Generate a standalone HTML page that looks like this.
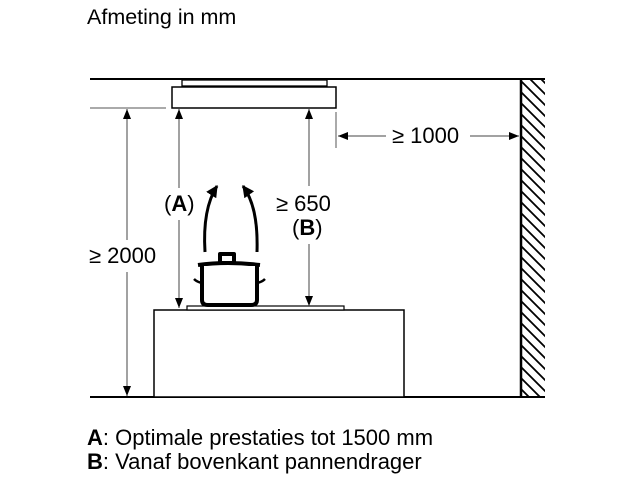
<!DOCTYPE html>
<html><head><meta charset="utf-8"><style>
body{margin:0;background:#fff;}
svg{display:block;font-family:"Liberation Sans",sans-serif;}
</style></head><body>
<svg width="640" height="480" viewBox="0 0 640 480">
<defs>
<marker id="ah" viewBox="0 0 10 10" refX="10" refY="5" markerWidth="10" markerHeight="10" markerUnits="userSpaceOnUse" orient="auto-start-reverse"><path d="M0,1 L10,5 L0,9 z" fill="#000"/></marker>
<marker id="ah2" viewBox="0 0 10 10" refX="9" refY="5" markerWidth="12" markerHeight="12" markerUnits="userSpaceOnUse" orient="auto"><path d="M0,0 L10,5 L0,10 z" fill="#000"/></marker>
<pattern id="hatch" width="11" height="11" patternUnits="userSpaceOnUse"><path d="M-2,-2 L13,13 M-2,9 L2,13 M9,-2 L13,2" stroke="#000" stroke-width="1.8"/></pattern>
</defs>
<text x="87" y="24" font-size="21.5">Afmeting in mm</text>
<line x1="90" y1="79" x2="545" y2="79" stroke="#000" stroke-width="2"/>
<rect x="521" y="80" width="24" height="317" fill="url(#hatch)"/>
<line x1="521" y1="79" x2="521" y2="397" stroke="#000" stroke-width="2.5"/>
<line x1="90" y1="397" x2="545" y2="397" stroke="#000" stroke-width="2"/>
<rect x="182" y="80" width="145" height="6" fill="#fff" stroke="#000" stroke-width="1.3"/>
<rect x="172" y="87" width="164" height="21" fill="#fff" stroke="#000" stroke-width="1.5"/>
<line x1="90" y1="108" x2="166" y2="108" stroke="#555" stroke-width="1"/>
<line x1="336" y1="112" x2="336" y2="148" stroke="#555" stroke-width="1"/>
<rect x="154" y="310" width="250" height="87" fill="#fff" stroke="#000" stroke-width="1.5"/>
<rect x="187" y="306" width="157" height="4" fill="#fff" stroke="#000" stroke-width="1.2"/>
<g stroke="#444" stroke-width="1" fill="none">
<line x1="127" y1="109" x2="127" y2="240" marker-start="url(#ah)"/>
<line x1="127" y1="272" x2="127" y2="396" marker-end="url(#ah)"/>
<line x1="179" y1="109" x2="179" y2="188" marker-start="url(#ah)"/>
<line x1="179" y1="220" x2="179" y2="308" marker-end="url(#ah)"/>
<line x1="309" y1="109" x2="309" y2="186" marker-start="url(#ah)"/>
<line x1="309" y1="244" x2="309" y2="306" marker-end="url(#ah)"/>
<line x1="386" y1="136" x2="338" y2="136" marker-end="url(#ah)"/>
<line x1="470" y1="136" x2="519" y2="136" marker-end="url(#ah)"/>
</g>
<text x="89" y="263" font-size="22">≥ 2000</text>
<text x="164" y="211" font-size="22">(<tspan font-weight="bold">A</tspan>)</text>
<text x="276" y="211" font-size="22">≥ 650</text>
<text x="292" y="235" font-size="22">(<tspan font-weight="bold">B</tspan>)</text>
<text x="392" y="143" font-size="22">≥ 1000</text>
<g stroke="#000" stroke-width="3" fill="none">
<path d="M205,252 C203,220 208,200 217,186" marker-end="url(#ah2)"/>
<path d="M257,252 C258,220 253,200 243,186" marker-end="url(#ah2)"/>
</g>
<g stroke="#000" stroke-width="4" fill="#fff" stroke-linejoin="round">
<rect x="220" y="254" width="14" height="9"/>
<path d="M198,265 Q227,261 260,265"/>
<path d="M202,266 L202,300 Q202,305 208,305 L251,305 Q257,305 257,300 L257,266"/>
<path d="M202,283 Q197,282 194,279" stroke-width="2.5"/>
<path d="M257,283 Q262,282 265,279" stroke-width="2.5"/>
</g>
<text x="87" y="445" font-size="22"><tspan font-weight="bold">A</tspan>: Optimale prestaties tot 1500 mm</text>
<text x="87" y="469" font-size="22"><tspan font-weight="bold">B</tspan>: Vanaf bovenkant pannendrager</text>
</svg>
</body></html>
